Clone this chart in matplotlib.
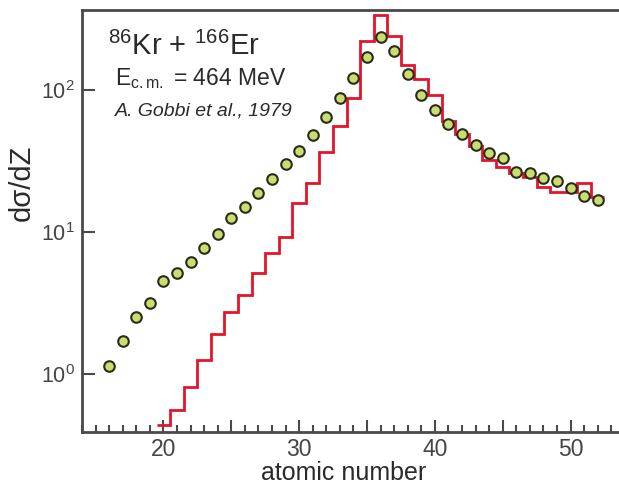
import numpy as np
import matplotlib
matplotlib.use('Agg')
import matplotlib.pyplot as plt
from matplotlib.ticker import FixedLocator, MultipleLocator, NullFormatter

# ---------- Data ----------
# measured charge distribution (circles)
z_meas = list(range(16, 53))
dsig_meas = [1.14, 1.72, 2.51, 3.18, 4.52, 5.17, 6.18, 7.76, 9.68, 12.6,
             14.9, 18.7, 23.5, 30.1, 37.4, 48.2, 64.9, 87.4, 121, 172,
             235, 188, 130, 92, 72.3, 57.3, 48.7, 41, 36.2, 33,
             26.3, 25.9, 23.9, 22.9, 20.3, 18, 16.8]

# calculated distribution (histogram, one bin per Z from 20 to 52)
z_calc = list(range(20, 53))
dsig_calc = [0.44, 0.557, 0.806, 1.25, 1.91, 2.75, 3.6, 5.12, 7.15, 9.17,
             15.9, 22.2, 36.7, 55.8, 87.4, 222, 337, 240, 150, 119,
             92.2, 60, 49, 40.3, 32.2, 28.5, 25.9, 24.4, 20.8, 19.2,
             19.2, 22.2, 17.7]

x_ticks_major = [20, 25, 30, 35, 40, 45, 50]
x_tick_labels = ['20', '', '30', '', '40', '', '50']
y_ticks = [1, 10, 100]

# ---------- Style ----------
plt.rcParams['font.family'] = ['Liberation Sans', 'DejaVu Sans']
plt.rcParams['mathtext.fontset'] = 'custom'
plt.rcParams['mathtext.rm'] = 'Liberation Sans'
plt.rcParams['mathtext.it'] = 'Liberation Sans:italic'
plt.rcParams['mathtext.bf'] = 'Liberation Sans:bold'

AXIS_COL = '#4a4a4a'
TEXT_COL = '#2a2a2a'
LABEL_COL = '#444444'

fig = plt.figure(figsize=(6.19, 4.87), dpi=100)
ax = fig.add_axes([82 / 619, 55 / 487, 537 / 619, 422 / 487])

# histogram as steps, edges at half-integer Z
edges = np.arange(z_calc[0] - 0.5, z_calc[-1] + 1.0, 1.0)
ax.stairs(dsig_calc, edges, baseline=None, color='#e3142c', linewidth=2.0,
          zorder=2)

ax.plot(z_meas, dsig_meas, linestyle='none', marker='o', markersize=7.6,
        markerfacecolor='#c9de6e', markeredgecolor='#2b2b1c',
        markeredgewidth=1.5, zorder=3)

ax.set_yscale('log')
ax.set_xlim(14, 53.57)
ax.set_ylim(0.39, 366)

# ---------- Axes & ticks ----------
ax.spines['right'].set_visible(False)
for side in ['left', 'top', 'bottom']:
    ax.spines[side].set_color(AXIS_COL)
    ax.spines[side].set_linewidth(2.0)

ax.xaxis.set_major_locator(FixedLocator(x_ticks_major))
ax.set_xticklabels(x_tick_labels)
ax.xaxis.set_minor_locator(MultipleLocator(1))
ax.yaxis.set_major_locator(FixedLocator(y_ticks))
ax.yaxis.set_minor_locator(FixedLocator([]))
ax.yaxis.set_minor_formatter(NullFormatter())

ax.tick_params(axis='x', which='major', direction='in', length=9, width=1.5,
               color=AXIS_COL, labelsize=16.5, labelcolor=LABEL_COL, pad=4,
               top=False)
ax.tick_params(axis='x', which='minor', direction='in', length=5, width=1.5,
               color=AXIS_COL, top=False)
ax.tick_params(axis='y', which='major', direction='in', length=9, width=1.5,
               color=AXIS_COL, labelsize=15.5, labelcolor=LABEL_COL, pad=5,
               right=False)

ax.set_xlabel('atomic number', fontsize=18, color=TEXT_COL)
ax.xaxis.set_label_coords(0.487, -0.068)
ax.set_ylabel('dσ/dZ', fontsize=21, color=TEXT_COL)
ax.yaxis.set_label_coords(-0.086, 0.59)

# ---------- Annotations ----------
ax.text(0.048, 0.893, r'$^{86}$Kr + $^{166}$Er', transform=ax.transAxes,
        fontsize=21, color=TEXT_COL, va='baseline')
ax.text(0.061, 0.822, r'E$_{\rm c.m.}$ = 464 MeV', transform=ax.transAxes,
        fontsize=16.5, color=TEXT_COL, va='baseline')
ax.text(0.061, 0.751, 'A. Gobbi et al., 1979', transform=ax.transAxes,
        fontsize=14, style='italic', color=TEXT_COL, va='baseline')

plt.savefig('out.png', dpi=100)
